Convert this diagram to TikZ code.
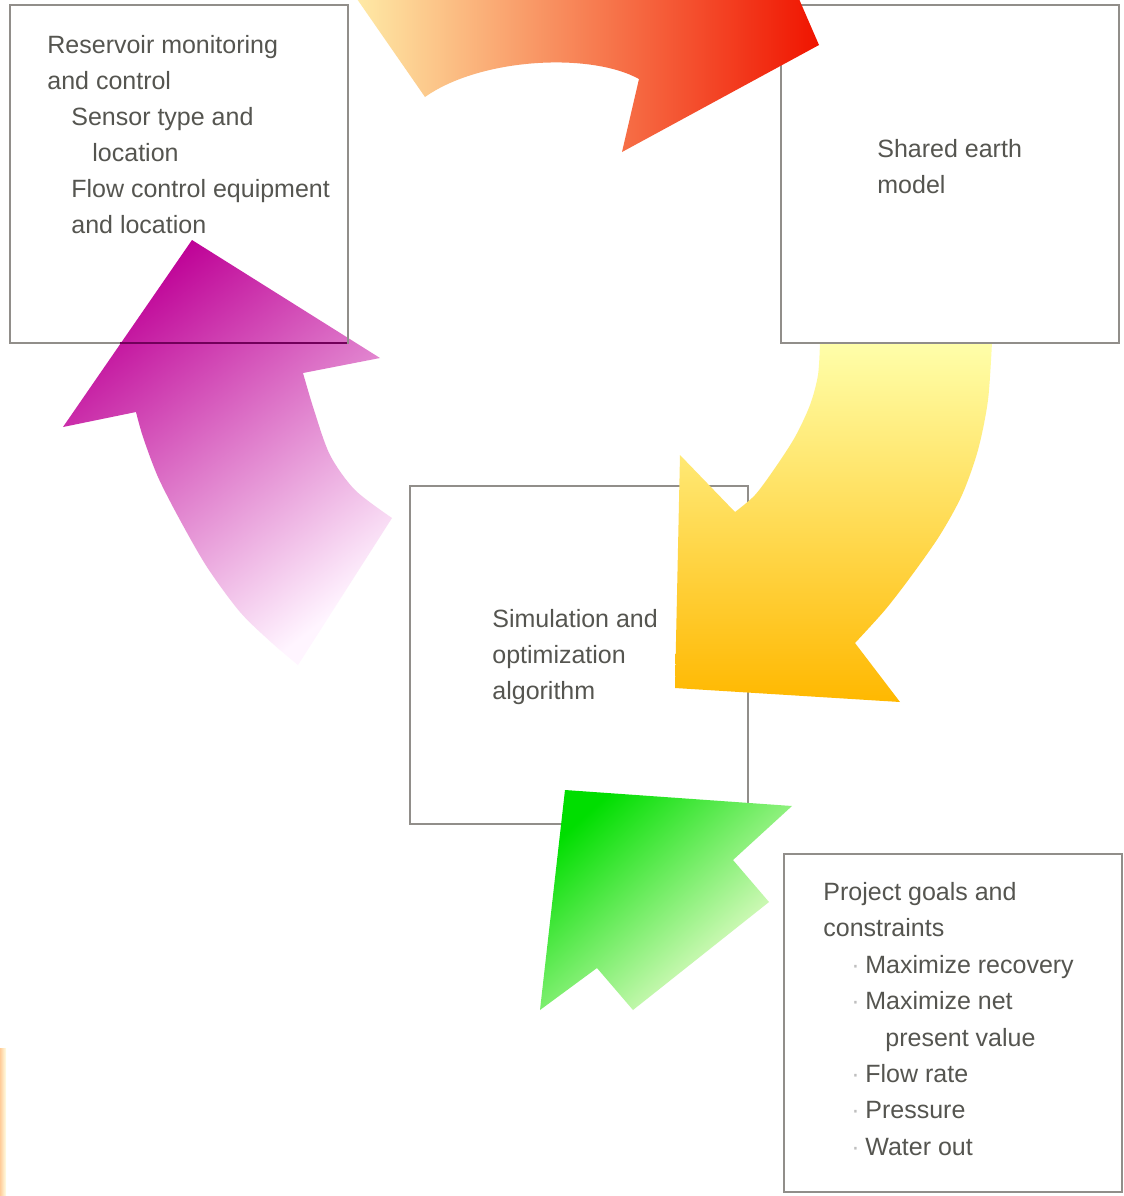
\documentclass[tikz,border=0pt]{standalone}
\usepackage{fontspec}
\setmainfont{Liberation Sans}
\usepackage{xcolor}
\definecolor{boxgray}{RGB}{145,142,138}
\definecolor{txtgray}{RGB}{85,85,80}
\definecolor{redtip}{RGB}{240,20,0}
\definecolor{redmid}{RGB}{255,140,20}
\definecolor{redtail}{RGB}{255,246,175}
\definecolor{yeltop}{RGB}{255,255,170}
\definecolor{yelmid}{RGB}{255,232,10}
\definecolor{yelbot}{RGB}{255,184,0}
\definecolor{magdark}{RGB}{190,0,150}
\definecolor{magmid}{RGB}{215,50,190}
\definecolor{magpale}{RGB}{255,245,255}
\definecolor{grndark}{RGB}{0,222,0}
\definecolor{grnmid}{RGB}{140,252,90}
\definecolor{grnpale}{RGB}{255,255,225}
\tikzset{
  box/.style={draw=boxgray, line width=1pt, minimum size=169pt, inner sep=0pt, outer sep=0pt},
  txt/.style={anchor=base west, inner sep=0pt, text=txtgray, font=\fontsize{12.5}{18}\selectfont},
  dot/.style={anchor=base west, inner sep=0pt, text=black!25, font=\fontsize{12.5}{18}\selectfont},
}

\begin{document}
\begin{tikzpicture}[x=0.5pt,y=-0.5pt]
	\useasboundingbox (0,0) rectangle (1124,1196);
	\clip (0,0) rectangle (1124,1196);
	\fill[white] (0,0) rectangle (1124,1196);
	\shade[left color=orange!40, right color=yellow!10] (0,1048) rectangle (6,1196);

	% middle box, under the yellow and green arrows
	\node[box] (sim) at (579,655) {};

	% yellow arrow: earth model -> simulation
	\shade[top color=yeltop, middle color=yelmid, bottom color=yelbot]
		(820,342) -- (992,342)
		-- plot[smooth] coordinates {(992,342) (988,400) (978,450) (962,495) (940,535) (912,575) (885,610) (855,643)}
		-- (900,702) -- (675,688) -- (680,455) -- (735,512)
		-- plot[smooth] coordinates {(735,512) (755,495) (775,468) (795,437) (810,405) (818,375) (820,342)}
		-- cycle;

	% green arrow: goals -> simulation
	\shade[top color=grndark, middle color=grnmid, bottom color=grnpale, shading angle=42]
		(565,790) -- (792,806) -- (733,860) -- (769,902) -- (633,1010) -- (597,968) -- (540,1010) -- cycle;

	% earth model box
	\node[box] (earth) at (950,173.5) {};

	% red arrow: monitoring -> earth model
	\shade[left color=redtail, middle color=redmid, right color=redtip]
		(330,-40) -- (425,97) .. controls (480,58) and (590,52) .. (639,79)
		-- (622,152) -- (819,45) -- (730,-160) -- (699,-93) -- (520,-80) -- cycle;

	% magenta arrow: simulation -> monitoring
	\shade[top color=magdark, middle color=magmid, bottom color=magpale, shading angle=38]
		(192,240) -- (380,358) -- (303,373)
		-- plot[smooth] coordinates {(303,373) (314,410) (330,455) (355,490) (392,518)}
		-- (298,665)
		-- plot[smooth] coordinates {(298,665) (272,643) (240,612) (207,567) (180,520) (158,477) (143,437) (136,412)}
		-- (63,427) -- cycle;

	% monitoring and goals boxes
	\node[box] (monitor) at (178.5,174) {};
	\draw[magdark!60!black, line width=1pt] (120,343) -- (347,343);
	\node[box] (goals) at (953,1023) {};

	% texts
	\foreach \x/\y/\t [count=\i] in {47/53/Reservoir monitoring, 47/89/and control, 71/125/Sensor type and,
		92/161/location, 71/197/Flow control equipment, 71/233/and location}
		\node[txt] (mon\i) at (\x,\y) {\t};
	\foreach \x/\y/\t [count=\i] in {877/157/Shared earth, 877/193/model}
		\node[txt] (ear\i) at (\x,\y) {\t};
	\foreach \x/\y/\t [count=\i] in {492/627/Simulation and, 492/663/optimization, 492/699/algorithm}
		\node[txt] (sim\i) at (\x,\y) {\t};
	\foreach \x/\y/\t [count=\i] in {823/900/Project goals and, 823/936/constraints, 865/973/Maximize recovery,
		865/1009/Maximize net, 885/1046/present value, 865/1082/Flow rate, 865/1118/Pressure, 865/1155/Water out}
		\node[txt] (goal\i) at (\x,\y) {\t};
	\foreach \y [count=\i] in {973,1009,1082,1118,1155}
		\node[dot] (bul\i) at (851,\y) {·};
\end{tikzpicture}
\end{document}
